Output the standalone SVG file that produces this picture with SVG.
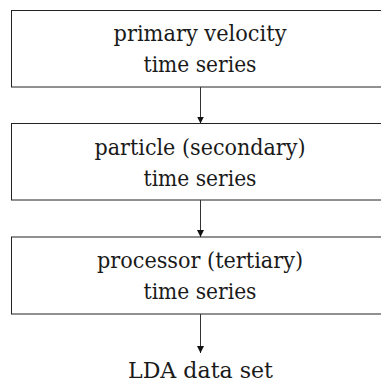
<svg xmlns="http://www.w3.org/2000/svg" width="381" height="383" viewBox="0 0 381 383">
<style>
.box{fill:#fff;stroke:#222;stroke-width:1}
.t{font-family:'DejaVu Serif','Liberation Serif',serif;font-size:22px;fill:#1a1a1a;text-anchor:middle}
.c{stroke:#333;stroke-width:1;fill:none}
</style>
<defs>
<marker id="ah" markerWidth="7" markerHeight="9" refX="7" refY="3.5" orient="auto" markerUnits="userSpaceOnUse">
<path d="M0,0 L7,3.5 L0,7 Z" fill="#111"/>
</marker>
</defs>
<rect width="381" height="383" fill="#fff"/>
<g id="n1">
<rect class="box" x="11.5" y="10.5" width="378" height="76.5"/>
<text class="t" x="200" y="41" textLength="173" lengthAdjust="spacingAndGlyphs">primary velocity</text>
<text class="t" x="200" y="72" textLength="113" lengthAdjust="spacingAndGlyphs">time series</text>
</g>
<g id="n2">
<rect class="box" x="11.5" y="123.5" width="378" height="76.5"/>
<text class="t" x="200" y="155" textLength="211" lengthAdjust="spacingAndGlyphs">particle (secondary)</text>
<text class="t" x="200" y="186" textLength="113" lengthAdjust="spacingAndGlyphs">time series</text>
</g>
<g id="n3">
<rect class="box" x="11.5" y="237" width="378" height="77"/>
<text class="t" x="200" y="268" textLength="206" lengthAdjust="spacingAndGlyphs">processor (tertiary)</text>
<text class="t" x="200" y="299" textLength="113" lengthAdjust="spacingAndGlyphs">time series</text>
</g>
<g id="n4">
<text class="t" x="200.5" y="378" textLength="145" lengthAdjust="spacingAndGlyphs">LDA data set</text>
</g>
<g id="connectors">
<line class="c" x1="200.5" y1="87" x2="200.5" y2="123.5" marker-end="url(#ah)"/>
<line class="c" x1="200.5" y1="200" x2="200.5" y2="237" marker-end="url(#ah)"/>
<line class="c" x1="200.5" y1="314" x2="200.5" y2="353" marker-end="url(#ah)"/>
</g>
</svg>
